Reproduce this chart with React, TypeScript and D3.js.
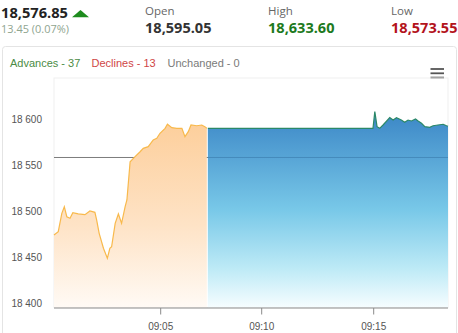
import React from "react";
import * as d3 from "d3";

// ---- data ----
const lastPrice = "18,576.85";
const change = "13.45 (0.07%)";
const openPrice = "18,595.05";
const highPrice = "18,633.60";
const lowPrice = "18,573.55";
const prevClose = 18563.4;

const legendItems = ["Advances - 37", "Declines - 13", "Unchanged - 0"];

// pre-open session (orange)
const preTimes = [
  "09:00:00", "09:00:12", "09:00:22", "09:00:29", "09:00:36", "09:00:45", "09:00:53",
  "09:01:08", "09:01:27", "09:01:41", "09:01:55", "09:02:00", "09:02:07", "09:02:19",
  "09:02:30", "09:02:37", "09:02:42", "09:02:52", "09:03:01", "09:03:10", "09:03:20",
  "09:03:25", "09:03:34", "09:03:48", "09:04:02", "09:04:11", "09:04:25", "09:04:39",
  "09:04:49", "09:04:58", "09:05:13", "09:05:20", "09:05:33", "09:05:48", "09:06:03",
  "09:06:12", "09:06:22", "09:06:30", "09:06:47", "09:07:02", "09:07:11", "09:07:17",
];
const preValues = [
  18479.0, 18482.6, 18502.6, 18509.8, 18498.9, 18497.2, 18503.3,
  18501.9, 18501.1, 18505.1, 18503.7, 18495.3, 18480.8, 18464.5,
  18453.6, 18464.5, 18466.2, 18491.7, 18501.9, 18491.7, 18509.8,
  18517.1, 18558.8, 18564.3, 18569.7, 18573.4, 18575.2, 18582.5,
  18584.3, 18589.8, 18595.2, 18599.6, 18595.9, 18595.2, 18595.2,
  18586.1, 18591.5, 18598.8, 18598.0, 18598.8, 18597.0, 18595.2,
];

// regular session (blue)
const mktTimes = [
  "09:07:20", "09:14:58", "09:15:03", "09:15:09", "09:15:16", "09:15:25", "09:15:43",
  "09:15:52", "09:16:01", "09:16:14", "09:16:23", "09:16:32", "09:16:41", "09:16:52",
  "09:16:59", "09:17:08", "09:17:17", "09:17:30", "09:17:39", "09:17:52", "09:18:06",
  "09:18:15", "09:18:19",
];
const mktValues = [
  18595.05, 18595.05, 18613.3, 18597.0, 18595.2, 18598.8, 18606.8,
  18604.2, 18606.8, 18604.2, 18601.7, 18604.2, 18603.2, 18605.3,
  18603.2, 18600.7, 18597.0, 18596.3, 18598.0, 18598.8, 18599.6,
  18598.0, 18597.4,
];

// axes
const xTickLabels = ["09:05", "09:10", "09:15"];
const yTicks = [18400, 18450, 18500, 18550, 18600];
// ordinal-like axis breakpoints (times at which the axis spacing changes)
const xBreaks = ["09:00:00", "09:05:00", "09:10:00", "09:15:00", "09:18:19"];

const parse = d3.timeParse("%H:%M:%S");

export default function App() {
  const W = 458, H = 333;
  const left = 54, right = 448, top = 78, bottom = 307.5;

  const breakDates = xBreaks.map((s) => parse(s) as Date);
  // piecewise range reproducing the ordinal spacing of the original axis
  const x = d3
    .scaleTime()
    .domain(breakDates)
    .range([left, 160.7, 261.7, 373.7, right]);
  const y = d3.scaleLinear().domain([18400, 18650]).range([bottom, top]);

  const pre = preTimes.map((t, i) => ({ t: parse(t) as Date, v: preValues[i] }));
  const mkt = mktTimes.map((t, i) => ({ t: parse(t) as Date, v: mktValues[i] }));

  const area = d3
    .area<{ t: Date; v: number }>()
    .x((d) => x(d.t))
    .y0(y(18400))
    .y1((d) => y(d.v));
  const line = d3
    .line<{ t: Date; v: number }>()
    .x((d) => x(d.t))
    .y((d) => y(d.v));

  const hdr = "'Open Sans', 'Noto Sans', sans-serif";
  const chartFont = "'Liberation Sans', Arial, sans-serif";

  const legendColors = ["#4b8b45", "#cf4646", "#7a7a7a"];
  const legendX = [10, 91.5, 167.5];

  const preMax = d3.max(preValues) as number;
  const mktMax = d3.max(mktValues) as number;

  return (
    <svg
      width={W}
      height={H}
      style={{ position: "fixed", left: 0, top: 0, background: "#fff" }}
    >
      <defs>
        <linearGradient id="gOr" gradientUnits="userSpaceOnUse" x1="0" x2="0" y1={y(preMax)} y2={y(18400)}>
          <stop offset="0" stopColor="#fdcf9c" />
          <stop offset="0.55" stopColor="#fee3c6" />
          <stop offset="1" stopColor="#fffaf5" />
        </linearGradient>
        <linearGradient id="gBl" gradientUnits="userSpaceOnUse" x1="0" x2="0" y1={y(mktMax)} y2={y(18400)}>
          <stop offset="0" stopColor="#3b86c6" />
          <stop offset="0.5" stopColor="#78c8e8" />
          <stop offset="0.8" stopColor="#bdeaf6" />
          <stop offset="1" stopColor="#f6fdff" />
        </linearGradient>
      </defs>

      {/* header */}
      <text x={1} y={18} fontFamily={hdr} fontWeight={700} fontSize={14} fill="#222" textLength={67} lengthAdjust="spacingAndGlyphs">
        {lastPrice}
      </text>
      <path d="M72,17.3 L89,17.3 L80.5,10 Z" fill="#1e8c1e" />
      <text x={1} y={33} fontFamily={hdr} fontSize={10.5} fill="#8fa58f" textLength={68} lengthAdjust="spacingAndGlyphs">
        {change}
      </text>

      {[
        { label: "Open", value: openPrice, color: "#333", x0: 145 },
        { label: "High", value: highPrice, color: "#1d7a1d", x0: 268 },
        { label: "Low", value: lowPrice, color: "#b3131c", x0: 391 },
      ].map((d) => (
        <g key={d.label}>
          <text x={d.x0} y={15} fontFamily={hdr} fontSize={11.5} fill="#666">
            {d.label}
          </text>
          <text x={d.x0} y={33} fontFamily={hdr} fontWeight={700} fontSize={14} fill={d.color} textLength={66.5} lengthAdjust="spacingAndGlyphs">
            {d.value}
          </text>
        </g>
      ))}

      {/* container */}
      <rect x={2.5} y={46.5} width={454} height={300} rx={3} fill="none" stroke="#e4e4e4" />

      {/* legend */}
      {legendItems.map((s, i) => (
        <text key={s} x={legendX[i]} y={66.5} fontFamily={chartFont} fontSize={11} fill={legendColors[i]}>
          {s}
        </text>
      ))}

      {/* menu icon */}
      {[0, 1, 2].map((i) => (
        <line key={i} x1={430.5} x2={444} y1={69 + i * 4.3} y2={69 + i * 4.3} stroke="#555" strokeWidth={1.8} />
      ))}

      {/* plot border */}
      <rect x={left} y={top} width={right - left} height={bottom - top} fill="none" stroke="#efefef" />

      {/* previous close */}
      <line x1={left} x2={right} y1={y(prevClose)} y2={y(prevClose)} stroke="#7d7d7d" strokeWidth={1} />

      {/* areas */}
      <path d={area(pre) || ""} fill="url(#gOr)" />
      <path d={line(pre) || ""} fill="none" stroke="#f8b94c" strokeWidth={1.2} />
      <path d={area(mkt) || ""} fill="url(#gBl)" />
      <line
        x1={x(mkt[0].t)}
        x2={right}
        y1={y(prevClose)}
        y2={y(prevClose)}
        stroke="rgba(30,80,130,0.3)"
        strokeWidth={1}
      />
      <path d={line(mkt) || ""} fill="none" stroke="#2b8868" strokeWidth={1.2} />

      {/* y axis labels */}
      {yTicks.map((v) => (
        <text key={v} x={42} y={y(v) - 0.8} textAnchor="end" fontFamily={chartFont} fontSize={10} fill="#555">
          {d3.format(",")(v).replace(",", " ")}
        </text>
      ))}

      {/* x axis */}
      <line x1={left} x2={right} y1={bottom + 0.5} y2={bottom + 0.5} stroke="#8a8a8a" />
      {xTickLabels.map((s) => {
        const xx = x(parse(s + ":00") as Date);
        return (
          <g key={s}>
            <line x1={xx} x2={xx} y1={bottom + 0.5} y2={bottom + 7} stroke="#8a8a8a" />
            <text x={xx} y={329.5} textAnchor="middle" fontFamily={chartFont} fontSize={10} fill="#555">
              {s}
            </text>
          </g>
        );
      })}
    </svg>
  );
}
